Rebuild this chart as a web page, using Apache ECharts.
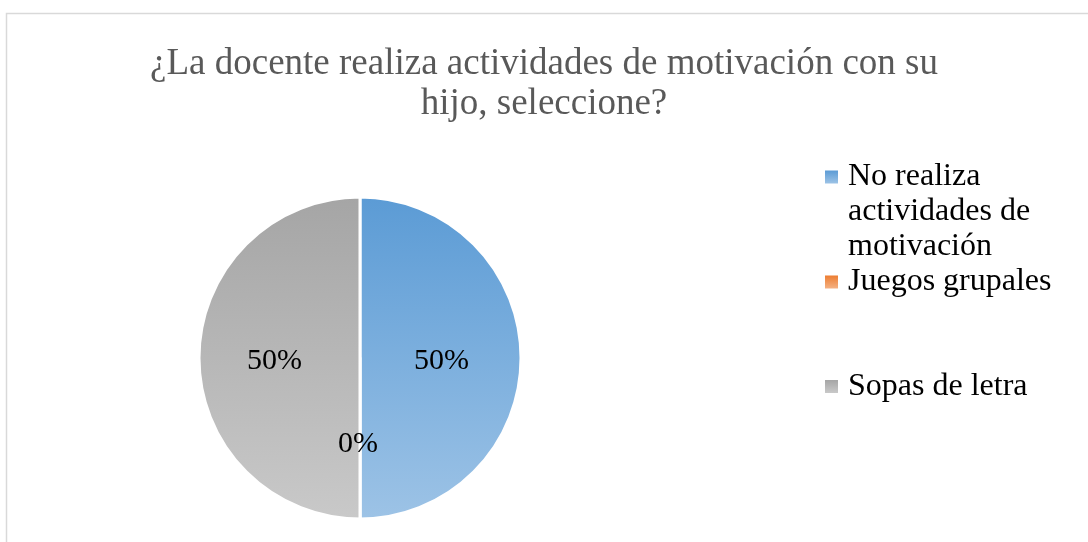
<!DOCTYPE html>
<html>
<head>
<meta charset="utf-8">
<script src="https://cdn.jsdelivr.net/npm/echarts@6/dist/echarts.min.js"></script>
<style>
  html, body { margin: 0; padding: 0; background: #fff; }
  #chart { width: 1088px; height: 542px; }
</style>
</head>
<body>
<div id="chart"></div>
<script>
var categories = ['No realiza actividades de motivación', 'Juegos grupales', 'Sopas de letra'];
var values = [50, 0, 50];
var legendLabels = ['\n\nNo realiza\nactividades de\nmotivación', 'Juegos grupales', 'Sopas de letra'];
var colorsTop = ['#5B9BD5', '#ED7D31', '#A5A5A5'];
var colorsBottom = ['#9DC3E6', '#F4B183', '#C9C9C9'];

var serif = '"Liberation Serif", "Times New Roman", serif';

function grad(i) {
  return new echarts.graphic.LinearGradient(0, 0, 0, 1, [
    { offset: 0, color: colorsTop[i] },
    { offset: 1, color: colorsBottom[i] }
  ]);
}

var pieData = categories.map(function (name, i) {
  return { name: name, value: values[i], itemStyle: { color: grad(i) } };
});

// one legend per entry so each can sit where the original puts it
function makeLegend(i, top, lh) {
  return {
    left: 820,
    top: top,
    orient: 'vertical',
    itemWidth: 13,
    itemHeight: 13,
    icon: 'rect',
    itemStyle: { borderWidth: 0 },
    data: [categories[i]],
    formatter: function () { return legendLabels[i]; },
    textStyle: {
      fontFamily: serif,
      fontSize: 32,
      lineHeight: lh,
      color: '#000',
      padding: [0, 0, 0, 5]
    }
  };
}

var chart = echarts.init(document.getElementById('chart'));
chart.setOption({
  backgroundColor: '#fff',
  animation: false,
  title: {
    text: '¿La docente realiza actividades de motivación con su\nhijo, seleccione?',
    left: 539,
    top: 39,
    textAlign: 'center',
    textStyle: {
      fontFamily: serif,
      fontSize: 37,
      fontWeight: 'normal',
      lineHeight: 40,
      color: '#595959',
      align: 'center'
    }
  },
  graphic: [{
    type: 'rect',
    silent: true,
    shape: { x: 6.5, y: 13.5, width: 1200, height: 700 },
    style: { fill: 'none', stroke: '#d9d9d9', lineWidth: 1.5 }
  }],
  legend: [
    makeLegend(0, 84.5, 35),
    makeLegend(1, 259, 36),
    makeLegend(2, 363.5, 36)
  ],
  series: [{
    type: 'pie',
    center: [360, 358],
    radius: 161,
    startAngle: 90,
    clockwise: true,
    stillShowZeroSum: true,
    itemStyle: { borderColor: '#fff', borderWidth: 3 },
    label: {
      show: true,
      position: 'inside',
      fontFamily: serif,
      fontSize: 30,
      color: '#000',
      offset: [-2, 3],
      formatter: function (p) { return Math.round(p.percent) + '%'; }
    },
    labelLine: { show: false },
    emphasis: { disabled: true },
    data: pieData
  }]
});
</script>
</body>
</html>
